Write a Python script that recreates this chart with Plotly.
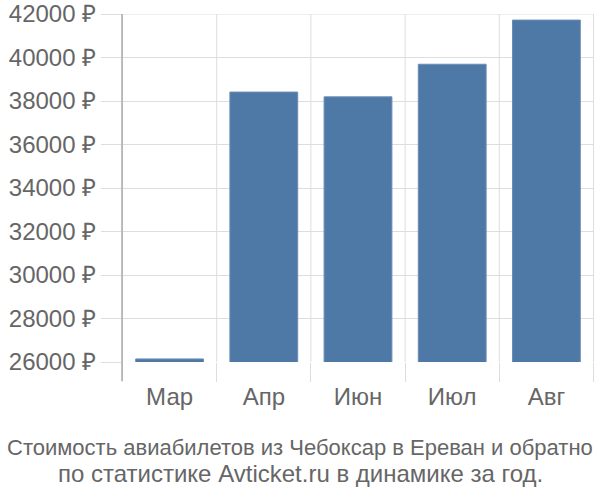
import plotly.graph_objects as go

months = ["Мар", "Апр", "Июн", "Июл", "Авг"]
prices = [26140, 38410, 38190, 39690, 41720]
y_ticks = [26000, 28000, 30000, 32000, 34000, 36000, 38000, 40000, 42000]
y_tick_labels = [f"{v} ₽" for v in y_ticks]
title_line1 = "Стоимость авиабилетов из Чебоксар в Ереван и обратно"
title_line2 = "по статистике Avticket.ru в динамике за год."

PL, PR, PT, PB = 122, 594, 14, 362  # plot area in page pixels


def px_to_paper_x(x):
    return (x - PL) / (PR - PL)


def px_to_paper_y(y):
    return (PB - y) / (PB - PT)


fig = go.Figure(go.Bar(
    x=months, y=prices, base=0,
    marker=dict(color="#4e78a6", line=dict(color="#6a8db5", width=1)),
    hoverinfo="skip",
))

fig.update_layout(
    width=600, height=500,
    margin=dict(l=PL, r=600 - PR, t=PT, b=500 - PB),
    plot_bgcolor="white", paper_bgcolor="white",
    bargap=0.28,
    showlegend=False,
    hovermode=False,
    font=dict(family="Liberation Sans, Arial, sans-serif", color="#666666", size=24),
    xaxis=dict(showgrid=False, ticks="outside", ticklen=19, tickcolor="#dddddd",
               tickson="boundaries", showline=False, zeroline=False, automargin=False,
               ticklabelstandoff=18, fixedrange=True,
               tickfont=dict(size=24, color="#666666")),
    yaxis=dict(range=[26000, 42000], tickvals=y_ticks, ticktext=y_tick_labels,
               showgrid=True, gridcolor="#dddddd", gridwidth=1,
               ticks="outside", ticklen=20, tickcolor="#dddddd",
               zeroline=False, showline=False, automargin=False,
               ticklabeloverflow="allow", fixedrange=True,
               tickfont=dict(size=24, color="#666666")),
    annotations=[
        dict(text=title_line1, xref="paper", yref="paper",
             x=px_to_paper_x(300), y=px_to_paper_y(447), xanchor="center", yanchor="middle",
             showarrow=False, font=dict(size=22, color="#666666")),
        dict(text=title_line2, xref="paper", yref="paper",
             x=px_to_paper_x(300), y=px_to_paper_y(473), xanchor="center", yanchor="middle",
             showarrow=False, font=dict(size=24, color="#666666")),
    ],
)

# top gridline (at range edge)
fig.add_shape(type="line", xref="paper", yref="y", x0=-20 / (PR - PL), x1=1,
              y0=y_ticks[-1], y1=y_ticks[-1], line=dict(color="#dddddd", width=1), layer="below")
# vertical category boundary gridlines
for i in range(len(months) + 1):
    fig.add_shape(type="line", xref="x", yref="paper", x0=i - 0.5, x1=i - 0.5,
                  y0=0, y1=1, line=dict(color="#dddddd", width=1), layer="below")
# left axis line extending below
fig.add_shape(type="line", xref="paper", yref="paper", x0=0, x1=0,
              y0=-19 / (PB - PT), y1=1, line=dict(color="#aaaaaa", width=1.5))

fig.write_html("out.html", config={"displayModeBar": False, "staticPlot": True},
               post_script="document.body.style.margin='0';document.body.style.overflow='hidden';")
